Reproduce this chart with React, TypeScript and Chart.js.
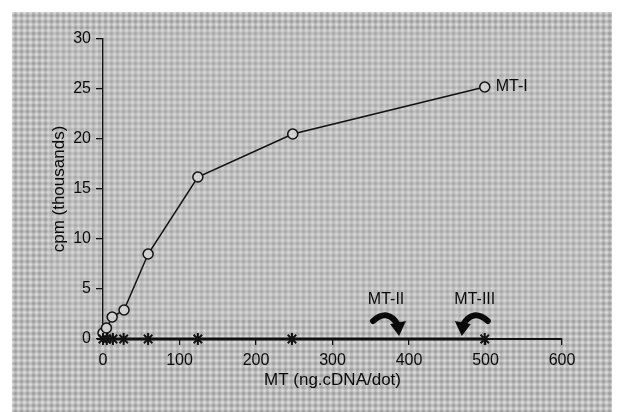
import React, { useEffect, useRef } from "react";
import { Chart, registerables } from "chart.js";

Chart.register(...registerables);

// ---- data ----
const doseMT1 = [0, 4.5, 12, 27.5, 59, 124, 248, 499];
const cpmMT1 = [0.6, 1.1, 2.2, 2.9, 8.5, 16.2, 20.5, 25.2];
const doseMT23 = [0, 5, 13, 27, 59, 124, 247, 499];
const cpmMT23 = [0, 0, 0, 0, 0, 0, 0, 0];
const xTicks = [0, 100, 200, 300, 400, 500, 600];
const yTicks = [0, 5, 10, 15, 20, 25, 30];
const seriesLabel = "MT-I";
const arrowLabels = ["MT-II", "MT-III"];
const arrowLabelX = [370, 486];
const arrowLabelY = [3.9, 3.9];
const arrowDirection = [1, -1];

const FONT = "'Liberation Sans', Arial, Helvetica, sans-serif";

function makePattern(ctx: CanvasRenderingContext2D) {
  const size = 12;
  const c = document.createElement("canvas");
  c.width = size;
  c.height = size;
  const p = c.getContext("2d")!;
  const img = p.createImageData(size, size);
  for (let j = 0; j < size; j++) {
    for (let i = 0; i < size; i++) {
      const v =
        Math.cos(((i + j) * Math.PI) / 6) * Math.cos(((i - j) * Math.PI) / 6);
      const g = Math.round(188 + v * 34);
      const k = (j * size + i) * 4;
      img.data[k] = g;
      img.data[k + 1] = g;
      img.data[k + 2] = g;
      img.data[k + 3] = 255;
    }
  }
  p.putImageData(img, 0, 0);
  return ctx.createPattern(c, "repeat");
}

const backgroundPlugin = {
  id: "bgTexture",
  beforeDraw(chart: any) {
    const ctx: CanvasRenderingContext2D = chart.ctx;
    ctx.save();
    ctx.fillStyle = "#ffffff";
    ctx.fillRect(0, 0, chart.width, chart.height);
    const pat = makePattern(ctx);
    ctx.fillStyle = pat || "#bcbcbc";
    ctx.fillRect(12, 12, 600, chart.height - 12);
    ctx.fillStyle = "rgba(200,200,200,0.25)";
    ctx.fillRect(48, 30, 552, 290);
    ctx.restore();
  },
};

const annotationPlugin = {
  id: "labelsArrows",
  afterDatasetsDraw(chart: any) {
    const ctx: CanvasRenderingContext2D = chart.ctx;
    const xs = chart.scales.x;
    const ys = chart.scales.y;
    ctx.save();
    ctx.fillStyle = "#0a0a0a";
    ctx.strokeStyle = "#0a0a0a";
    ctx.font = `16px ${FONT}`;
    ctx.textBaseline = "middle";
    // series label next to last point
    const lastX = xs.getPixelForValue(doseMT1[doseMT1.length - 1]);
    const lastY = ys.getPixelForValue(cpmMT1[cpmMT1.length - 1]);
    ctx.textAlign = "left";
    ctx.fillText(seriesLabel, lastX + 11, lastY);

    // MT-II / MT-III labels with curved arrows
    ctx.textAlign = "center";
    for (let i = 0; i < arrowLabels.length; i++) {
      const cx = xs.getPixelForValue(arrowLabelX[i]);
      const cy = ys.getPixelForValue(arrowLabelY[i]);
      ctx.fillText(arrowLabels[i], cx, cy);
      const d = arrowDirection[i];
      const sx = cx - d * 13;
      const sy = cy + 21;
      const ex = cx + d * 12;
      const ey = cy + 25;
      ctx.lineWidth = 6;
      ctx.lineCap = "round";
      ctx.beginPath();
      ctx.moveTo(sx, sy);
      ctx.quadraticCurveTo(cx + d * 2, cy + 8, ex, ey);
      ctx.stroke();
      // arrowhead
      ctx.beginPath();
      ctx.moveTo(ex - d * 8, ey - 1);
      ctx.lineTo(ex + d * 8, ey - 4);
      ctx.lineTo(ex + d * 1, ey + 11);
      ctx.closePath();
      ctx.fill();
    }
    ctx.restore();
  },
};

export default function App() {
  const ref = useRef<HTMLCanvasElement | null>(null);

  useEffect(() => {
    if (!ref.current) return;
    const chart = new Chart(ref.current, {
      type: "scatter",
      data: {
        datasets: [
          {
            label: "MT-II / MT-III",
            data: doseMT23.map((x, i) => ({ x, y: cpmMT23[i] })),
            showLine: true,
            borderColor: "#111",
            borderWidth: 3,
            pointStyle: "star",
            pointRadius: 6,
            pointBorderWidth: 2,
            pointBorderColor: "#111",
            clip: false,
          } as any,
          {
            label: "MT-I",
            data: doseMT1.map((x, i) => ({ x, y: cpmMT1[i] })),
            showLine: true,
            borderColor: "#111",
            borderWidth: 1.5,
            pointStyle: "circle",
            pointRadius: 5,
            pointBorderWidth: 1.5,
            pointBorderColor: "#111",
            pointBackgroundColor: "#d0d0d0",
            clip: false,
          } as any,
        ],
      },
      options: {
        animation: false,
        responsive: false,
        maintainAspectRatio: false,
        devicePixelRatio: 1,
        layout: { padding: { left: 45, top: 39, right: 79, bottom: 0 } },
        plugins: {
          legend: { display: false },
          tooltip: { enabled: false },
        },
        scales: {
          x: {
            type: "linear",
            min: 0,
            max: 600,
            afterFit: (s: any) => {
              s.height = 73;
            },
            afterBuildTicks: (s: any) => {
              s.ticks = xTicks.map((v) => ({ value: v }));
            },
            ticks: {
              color: "#0a0a0a",
              font: { family: FONT, size: 16 },
              padding: 6,
              maxRotation: 0,
            },
            grid: {
              drawOnChartArea: false,
              drawTicks: true,
              tickLength: 6,
              color: "#111",
              lineWidth: 1.3,
            },
            border: { display: true, color: "#111", width: 2 },
            title: {
              display: true,
              text: "MT (ng.cDNA/dot)",
              color: "#0a0a0a",
              font: { family: FONT, size: 17 },
              padding: { top: 0, bottom: 21 },
            },
          },
          y: {
            type: "linear",
            min: 0,
            max: 30,
            afterFit: (s: any) => {
              s.width = 58;
            },
            afterBuildTicks: (s: any) => {
              s.ticks = yTicks.map((v) => ({ value: v }));
            },
            ticks: {
              color: "#0a0a0a",
              font: { family: FONT, size: 16 },
              padding: 5,
            },
            grid: {
              drawOnChartArea: false,
              drawTicks: true,
              tickLength: 7,
              color: "#111",
              lineWidth: 1.3,
            },
            border: { display: true, color: "#111", width: 1.4 },
            title: {
              display: true,
              text: "cpm (thousands)",
              color: "#0a0a0a",
              font: { family: FONT, size: 17 },
              padding: { top: 4, bottom: 0 },
            },
          },
        },
      } as any,
      plugins: [backgroundPlugin, annotationPlugin],
    });
    return () => chart.destroy();
  }, []);

  return (
    <div style={{ position: "absolute", left: 0, top: 0, width: 641, height: 412 }}>
      <canvas ref={ref} width={641} height={412} style={{ width: 641, height: 412 }} />
    </div>
  );
}
